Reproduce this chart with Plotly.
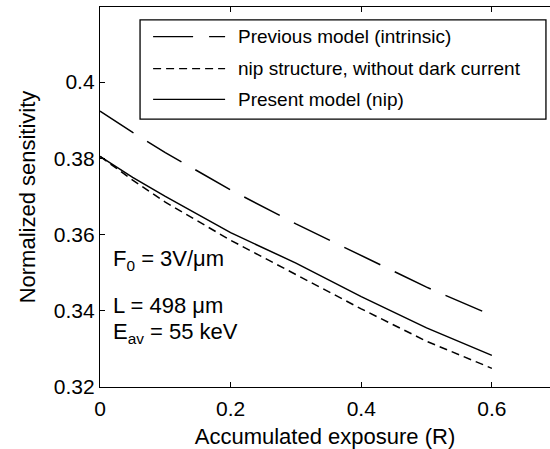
import plotly.graph_objects as go

# Data
exposure = [0.0, 0.05, 0.1, 0.2, 0.3, 0.4, 0.5, 0.6]
previous_model = [0.3924, 0.3868, 0.3815, 0.3717, 0.3628, 0.3545, 0.3462, 0.3388]
nip_no_dark = [0.3805, 0.3743, 0.3685, 0.3585, 0.3495, 0.3405, 0.3320, 0.3249]
present_model = [0.3805, 0.3750, 0.3700, 0.3605, 0.3525, 0.3437, 0.3355, 0.3283]

legend_labels = ["Previous model (intrinsic)",
                 "nip structure, without dark current",
                 "Present model (nip)"]
x_ticks = [0, 0.2, 0.4, 0.6]
x_ticktext = ["0", "0.2", "0.4", "0.6"]
y_ticks = [0.32, 0.34, 0.36, 0.38, 0.40]
y_ticktext = ["0.32", "0.34", "0.36", "0.38", "0.4"]

FONT = "Liberation Sans, Arial, Helvetica, sans-serif"
dashes = ["40px,16px", "8px,5px", "solid"]
series = [previous_model, nip_no_dark, present_model]

fig = go.Figure()
for ys, d, name in zip(series, dashes, legend_labels):
    fig.add_trace(go.Scatter(x=exposure, y=ys, mode="lines", name=name,
                             line=dict(color="black", width=1.5, dash=d),
                             showlegend=False))

# custom legend box (MATLAB style)
shapes = [dict(type="rect", xref="paper", yref="paper",
               x0=0.089, x1=0.991, y0=0.705, y1=0.966,
               line=dict(color="black", width=1.3), fillcolor="white", layer="above")]
annotations = []
rows = [0.922, 0.838, 0.757]
for ry, d, name in zip(rows, dashes, legend_labels):
    shapes.append(dict(type="line", xref="paper", yref="paper",
                       x0=0.118, x1=0.278, y0=ry, y1=ry,
                       line=dict(color="black", width=1.3, dash=d), layer="above"))
    annotations.append(dict(xref="paper", yref="paper", x=0.302, y=ry,
                            xanchor="left", yanchor="middle", showarrow=False,
                            text=name, font=dict(family=FONT, size=19, color="black")))

notes = [("F<sub>0</sub> = 3V/μm", 0.335),
         ("L = 498 μm", 0.215),
         ("E<sub>av</sub> = 55 keV", 0.143)]
for t, ny in notes:
    annotations.append(dict(xref="paper", yref="paper", x=0.025, y=ny,
                            xanchor="left", yanchor="middle", showarrow=False,
                            text=t, font=dict(family=FONT, size=22, color="black")))

fig.update_layout(
    width=550, height=449,
    margin=dict(l=100, r=0, t=7, b=62),
    paper_bgcolor="white", plot_bgcolor="white",
    font=dict(family=FONT, size=21, color="black"),
    shapes=shapes, annotations=annotations,
    xaxis=dict(range=[0, 0.689], tickvals=x_ticks, ticktext=x_ticktext,
               ticks="inside", ticklen=5, tickcolor="black",
               showline=True, linecolor="black", linewidth=1.3, mirror="ticks",
               showgrid=False, zeroline=False, ticklabelstandoff=3,
               title=dict(text="Accumulated exposure (R)", font=dict(size=22), standoff=9),
               tickfont=dict(size=21)),
    yaxis=dict(range=[0.32, 0.4197], tickvals=y_ticks, ticktext=y_ticktext,
               ticks="inside", ticklen=5, tickcolor="black",
               showline=True, linecolor="black", linewidth=1.3, mirror=False,
               showgrid=False, zeroline=False,
               title=dict(text="Normalized sensitivity", font=dict(size=22), standoff=12),
               tickfont=dict(size=21)),
)

fig.write_html("out.html")
